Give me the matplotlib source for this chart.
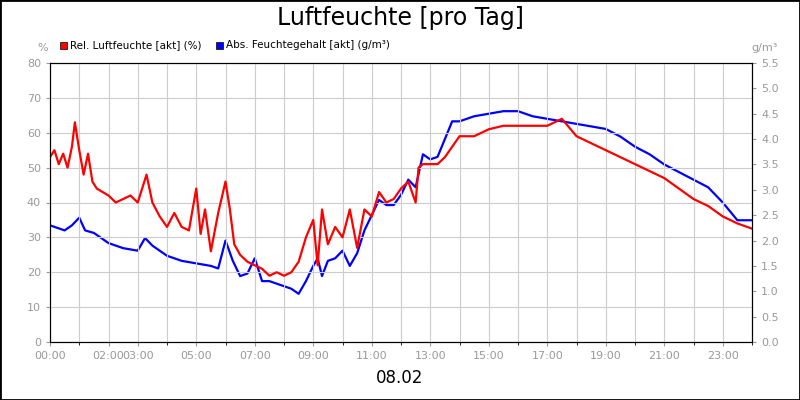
import matplotlib
matplotlib.use("Agg")
import matplotlib.pyplot as plt
from matplotlib.patches import Rectangle

hours_rel = [0,0.15,0.3,0.45,0.6,0.75,0.85,1.0,1.15,1.3,1.45,1.6,1.8,2.0,2.25,2.5,2.75,3.0,3.15,3.3,3.5,3.75,4.0,4.25,4.5,4.75,5.0,5.15,5.3,5.5,5.75,6.0,6.15,6.3,6.5,6.75,7.0,7.25,7.5,7.75,8.0,8.25,8.5,8.75,9.0,9.15,9.3,9.5,9.75,10.0,10.25,10.5,10.75,11.0,11.25,11.5,11.75,12.0,12.25,12.5,12.6,12.75,13.0,13.25,13.5,13.75,14.0,14.5,15.0,15.5,16.0,16.5,17.0,17.5,18.0,18.5,19.0,19.5,20.0,20.5,21.0,21.5,22.0,22.5,23.0,23.5,24.0]
rel = [53,55,51,54,50,56,63,55,48,54,46,44,43,42,40,41,42,40,44,48,40,36,33,37,33,32,44,31,38,26,37,46,38,28,25,23,22,21,19,20,19,20,23,30,35,22,38,28,33,30,38,27,38,36,43,40,41,44,46,40,50,51,51,51,53,56,59,59,61,62,62,62,62,64,59,57,55,53,51,49,47,44,41,39,36,34,32.5]

hours_abs = [0,0.25,0.5,0.75,1.0,1.2,1.5,2.0,2.5,3.0,3.25,3.5,4.0,4.5,5.0,5.5,5.75,6.0,6.25,6.5,6.75,7.0,7.25,7.5,8.0,8.25,8.5,8.75,9.0,9.15,9.3,9.5,9.75,10.0,10.25,10.5,10.75,11.0,11.25,11.5,11.75,12.0,12.25,12.5,12.75,13.0,13.25,13.5,13.75,14.0,14.5,15.0,15.5,16.0,16.5,17.0,17.5,18.0,18.5,19.0,19.5,20.0,20.5,21.0,21.5,22.0,22.5,23.0,23.5,24.0]
absf = [2.3,2.25,2.2,2.3,2.45,2.2,2.15,1.95,1.85,1.8,2.05,1.9,1.7,1.6,1.55,1.5,1.45,2.0,1.6,1.3,1.35,1.65,1.2,1.2,1.1,1.05,0.95,1.2,1.5,1.65,1.3,1.6,1.65,1.8,1.5,1.75,2.2,2.5,2.8,2.7,2.7,2.9,3.2,3.05,3.7,3.6,3.65,4.0,4.35,4.35,4.45,4.5,4.55,4.55,4.45,4.4,4.35,4.3,4.25,4.2,4.05,3.85,3.7,3.5,3.35,3.2,3.05,2.75,2.4,2.4]

tick_hours = [0,2,3,5,7,9,11,13,15,17,19,21,23]
tick_labels = ["00:00","02:00","03:00","05:00","07:00","09:00","11:00","13:00","15:00","17:00","19:00","21:00","23:00"]

fig = plt.figure(figsize=(8,4), dpi=100)
fig.patches.append(Rectangle((0,0),1,1,transform=fig.transFigure,fill=False,edgecolor="black",lw=2))
ax = fig.add_axes([50/800, 1-342/400, 702/800, 279/400])
ax.plot(hours_rel, rel, color="#ff0000", lw=1.6)
ax.set_xlim(0,24); ax.set_ylim(0,80)
ax.set_yticks(range(0,81,10))
ax.set_xticks(tick_hours)
ax.set_xticklabels(tick_labels)
ax.set_xticks(range(25), minor=True)
ax.grid(True, which="both", color="#cccccc", lw=0.8)
ax.set_axisbelow(True)
ax.tick_params(labelsize=8, colors="#999999", length=3)
for s in ax.spines.values(): s.set_color("black")
ax2 = ax.twinx()
ax2.plot(hours_abs, absf, color="#0000ff", lw=1.6)
ax2.set_ylim(0,5.5)
ax2.set_yticks([i*0.5 for i in range(12)])
ax2.tick_params(labelsize=8, colors="#999999", length=3)
ax.set_zorder(ax2.get_zorder()+1); ax.patch.set_visible(False)

fig.text(0.5, 1-18/400, "Luftfeuchte [pro Tag]", ha="center", va="center", fontsize=17)
fig.text(0.5, 1-378/400, "08.02", ha="center", va="center", fontsize=12)
fig.text(43/800, 1-48/400, "%", ha="center", va="center", fontsize=8, color="#999999")
fig.text(765/800, 1-48/400, "g/m³", ha="center", va="center", fontsize=8, color="#999999")
fig.patches.append(Rectangle((60/800,1-49/400),7/800,7/400,transform=fig.transFigure,facecolor="red",edgecolor="black",lw=0.5))
fig.text(70/800, 1-45.5/400, "Rel. Luftfeuchte [akt] (%)", va="center", fontsize=7.5)
fig.patches.append(Rectangle((216/800,1-49/400),7/800,7/400,transform=fig.transFigure,facecolor="blue",edgecolor="black",lw=0.5))
fig.text(226/800, 1-45.5/400, "Abs. Feuchtegehalt [akt] (g/m³)", va="center", fontsize=7.5)
fig.savefig("out.png", dpi=100)
